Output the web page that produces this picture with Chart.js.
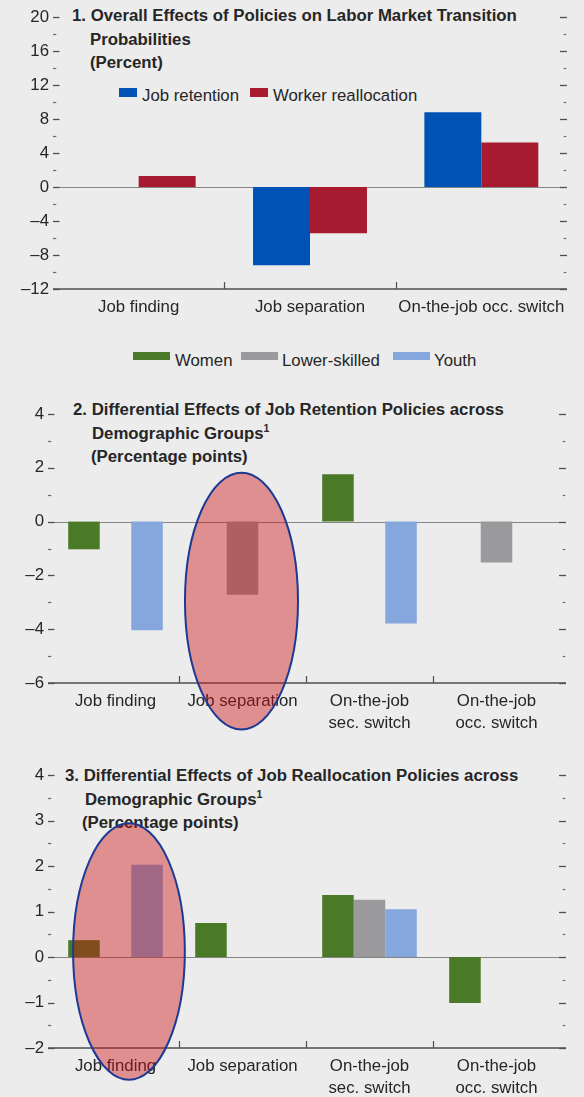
<!DOCTYPE html>
<html>
<head>
<meta charset="utf-8">
<script src="https://cdn.jsdelivr.net/npm/chart.js@4.4.1/dist/chart.umd.min.js"></script>
<style>
  body { margin: 0; background: #ececec; }
  #page { position: relative; width: 584px; height: 1097px; overflow: hidden; background: #ececec;
          font-family: "Liberation Sans", Arial, sans-serif; color: #262626; }
  canvas { position: absolute; left: 0; z-index: 2; }
  .title { position: absolute; z-index: 1; font-weight: bold; font-size: 16.8px; line-height: 23.6px; white-space: nowrap; }
  .title div { position: relative; height: 23.6px; }
  .title sup { font-size: 10.5px; line-height: 0; vertical-align: baseline; position: relative; top: -7px; }
  .lg { position: absolute; z-index: 1; font-size: 16.8px; line-height: 20px; white-space: nowrap; }
  .box { position: absolute; z-index: 1; }
</style>
</head>
<body>
<div id="page">
  <!-- panel 1 -->
  <div class="title" style="left:72px; top:4px;">
    <div>1. Overall Effects of Policies on Labor Market Transition</div>
    <div style="left:18px;">Probabilities</div>
    <div style="left:18px;">(Percent)</div>
  </div>
  <div class="box" style="left:119px; top:88px; width:18px; height:9px; background:#0052b4;"></div>
  <span class="lg" style="left:142px; top:86px;">Job retention</span>
  <div class="box" style="left:250px; top:88px; width:18px; height:9px; background:#a71a2f;"></div>
  <span class="lg" style="left:273px; top:86px;">Worker reallocation</span>

  <!-- shared legend for panels 2 and 3 -->
  <div class="box" style="left:133px; top:352px; width:37px; height:8px; background:#4a7a28;"></div>
  <span class="lg" style="left:175px; top:351px;">Women</span>
  <div class="box" style="left:241px; top:352px; width:37px; height:8px; background:#9a9a9c;"></div>
  <span class="lg" style="left:282px; top:351px;">Lower-skilled</span>
  <div class="box" style="left:393px; top:352px; width:37px; height:8px; background:#85a7dd;"></div>
  <span class="lg" style="left:434px; top:351px;">Youth</span>

  <!-- panel 2 -->
  <div class="title" style="left:73px; top:398px;">
    <div>2. Differential Effects of Job Retention Policies across</div>
    <div style="left:19px;">Demographic Groups<sup>1</sup></div>
    <div style="left:18px;">(Percentage points)</div>
  </div>

  <!-- panel 3 -->
  <div class="title" style="left:65px; top:764px;">
    <div>3. Differential Effects of Job Reallocation Policies across</div>
    <div style="left:20px;">Demographic Groups<sup>1</sup></div>
    <div style="left:17px;">(Percentage points)</div>
  </div>

  <canvas id="c1" width="584" height="330" style="top:0px;"></canvas>
  <canvas id="c2" width="584" height="360" style="top:380px;"></canvas>
  <canvas id="c3" width="584" height="352" style="top:745px;"></canvas>
</div>

<script>
// Panel 1: overall effects (percent)
const catsOverall = ['Job finding', 'Job separation', 'On-the-job occ. switch'];
const jobRetention = [0, -9.2, 8.8];
const workerRealloc = [1.3, -5.45, 5.25];

// Panels 2 and 3: categories shared
const catsGroups = [['Job finding'], ['Job separation'], ['On-the-job', 'sec. switch'], ['On-the-job', 'occ. switch']];

// Panel 2: job retention policies (percentage points)
const womenRet = [-1.03, null, 1.76, null];
const lowSkillRet = [null, -2.72, null, -1.52];
const youthRet = [-4.04, null, -3.79, null];

// Panel 3: job reallocation policies (percentage points)
const womenRealloc = [0.37, 0.75, 1.36, -1.01];
const lowSkillRealloc = [null, null, 1.26, null];
const youthRealloc = [2.03, null, 1.05, null];

// y axes: [min, max, step, labelled every]
const yAxis1 = [-12, 20, 2, 4];
const yAxis2 = [-6, 4, 1, 2];
const yAxis3 = [-2, 4, 0.5, 1];

const TXT = '#262626';
const FONT = { family: '"Liberation Sans", Arial, sans-serif', size: 16.8, lineHeight: 1.32 };

function isMajor(v, every) {
    const r = Math.abs(v / every - Math.round(v / every));
    return r < 1e-6;
}

function line(ctx, x1, y1, x2, y2) {
    ctx.beginPath();
    ctx.moveTo(x1, y1);
    ctx.lineTo(x2, y2);
    ctx.stroke();
}

// zero line, base axis, category dividers and the little side ticks
const axisDecor = {
    id: 'axisDecor',
    beforeDatasetsDraw(chart, args, o) {
        const { ctx, chartArea: a, scales: { x, y } } = chart;
        ctx.save();
        const y0 = Math.round(y.getPixelForValue(0)) + 0.5;
        ctx.strokeStyle = '#858585';
        ctx.lineWidth = 1;
        line(ctx, o.lx, y0, o.rx, y0);

        ctx.strokeStyle = '#4f4f4f';
        ctx.lineWidth = 1.5;
        line(ctx, o.lx, a.bottom, o.rx, a.bottom);
        ctx.lineWidth = 1.2;
        for (let i = 0; i < x.ticks.length - 1; i++) {
            const xp = Math.round((x.getPixelForValue(i) + x.getPixelForValue(i + 1)) / 2) + 0.5;
            line(ctx, xp, a.bottom - 7, xp, a.bottom);
        }

        y.ticks.forEach(t => {
            const yp = Math.round(y.getPixelForValue(t.value)) + 0.5;
            if (isMajor(t.value, o.every)) {
                ctx.strokeStyle = '#4f4f4f';
                ctx.lineWidth = 1.3;
                line(ctx, o.lx, yp, o.lx + 6.5, yp);
                line(ctx, o.rx - 7, yp, o.rx, yp);
            } else {
                ctx.strokeStyle = '#6a6a6a';
                ctx.lineWidth = 1.2;
                line(ctx, o.lx, yp, o.lx + 3.3, yp);
                line(ctx, o.rx - 3.3, yp, o.rx - 0.7, yp);
            }
        });
        ctx.restore();
    }
};

// the red highlight ellipse laid over the chart
const ellipseMark = {
    id: 'ellipseMark',
    afterDraw(chart, args, o) {
        if (!o || o.cat === undefined) return;
        const { ctx, scales: { x, y } } = chart;
        const cw = x.getPixelForValue(1) - x.getPixelForValue(0);
        const cx = x.getPixelForValue(o.cat) + o.dx * cw;
        const y1 = y.getPixelForValue(o.top);
        const y2 = y.getPixelForValue(o.bottom);
        ctx.save();
        ctx.beginPath();
        ctx.ellipse(cx, (y1 + y2) / 2, o.rx * cw, Math.abs(y2 - y1) / 2, 0, 0, Math.PI * 2);
        ctx.fillStyle = 'rgba(205, 15, 15, 0.42)';
        ctx.fill();
        ctx.strokeStyle = '#1c3a93';
        ctx.lineWidth = 2;
        ctx.stroke();
        ctx.restore();
    }
};

function makeChart(id, labels, datasets, yAxis, box, ellipse) {
    const [min, max, step, every] = yAxis;
    return new Chart(document.getElementById(id), {
        type: 'bar',
        data: { labels: labels, datasets: datasets },
        plugins: [axisDecor, ellipseMark],
        options: {
            responsive: false,
            animation: false,
            layout: { padding: { left: 0, right: box.padRight, top: box.padTop, bottom: 0 } },
            datasets: { bar: { categoryPercentage: box.catPct, barPercentage: 1, borderWidth: 0 } },
            plugins: {
                legend: { display: false },
                tooltip: { enabled: false },
                axisDecor: { lx: box.lx, rx: box.rx, every: every },
                ellipseMark: ellipse || false
            },
            scales: {
                x: {
                    grid: { display: false, drawTicks: false },
                    border: { display: false },
                    ticks: { color: TXT, font: FONT, padding: 7, maxRotation: 0, autoSkip: false },
                    afterFit: s => { s.height = box.xHeight; }
                },
                y: {
                    min: min,
                    max: max,
                    grid: { display: false, drawTicks: false },
                    border: { display: false },
                    ticks: {
                        stepSize: step,
                        autoSkip: false,
                        color: TXT,
                        font: FONT,
                        padding: box.yPad,
                        callback: v => isMajor(v, every) ? (v < 0 ? '\u2013' + Math.abs(v) : String(v)) : ''
                    },
                    afterFit: s => { s.width = box.yWidth; }
                }
            }
        }
    });
}

makeChart('c1', catsOverall, [
    { label: 'Job retention', data: jobRetention, backgroundColor: '#0052b4' },
    { label: 'Worker reallocation', data: workerRealloc, backgroundColor: '#a71a2f' }
], yAxis1, { padRight: 17, padTop: 17, xHeight: 41, yWidth: 53, yPad: 4, lx: 53, rx: 567, catPct: 0.665 });

makeChart('c2', catsGroups, [
    { label: 'Women', data: womenRet, backgroundColor: '#4a7a28' },
    { label: 'Lower-skilled', data: lowSkillRet, backgroundColor: '#9a9a9c' },
    { label: 'Youth', data: youthRet, backgroundColor: '#85a7dd' }
], yAxis2, { padRight: 24, padTop: 34, xHeight: 57, yWidth: 52, yPad: 8, lx: 48, rx: 566, catPct: 0.745 },
   { cat: 1, dx: -0.008, rx: 0.445, top: 1.82, bottom: -7.73 });

makeChart('c3', catsGroups, [
    { label: 'Women', data: womenRealloc, backgroundColor: '#4a7a28' },
    { label: 'Lower-skilled', data: lowSkillRealloc, backgroundColor: '#9a9a9c' },
    { label: 'Youth', data: youthRealloc, backgroundColor: '#85a7dd' }
], yAxis3, { padRight: 24, padTop: 30, xHeight: 49, yWidth: 52, yPad: 8, lx: 48, rx: 566, catPct: 0.745 },
   { cat: 0, dx: 0.106, rx: 0.44, top: 2.94, bottom: -2.70 });
</script>
</body>
</html>
